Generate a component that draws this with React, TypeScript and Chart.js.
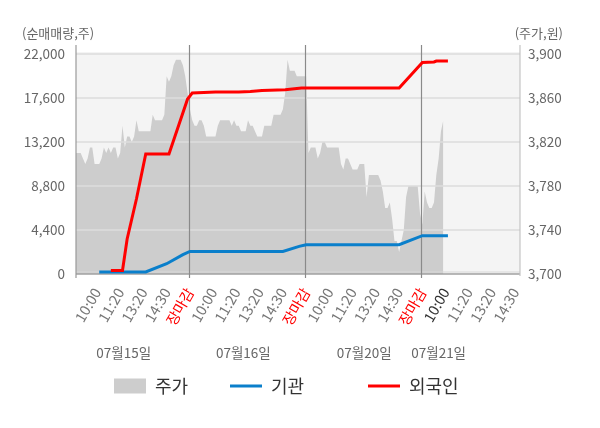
import React, { useEffect, useRef } from 'react';
import { Chart, registerables } from 'chart.js';

Chart.register(...registerables);

const FONT = "'Noto Sans CJK KR', 'Noto Sans', sans-serif";

// x tick labels (category slots along the time axis)
const tickLabels = [
  '10:00', '11:20', '13:20', '14:30', '장마감',
  '10:00', '11:20', '13:20', '14:30', '장마감',
  '10:00', '11:20', '13:20', '14:30', '장마감',
  '10:00', '11:20', '13:20', '14:30',
];
const tickIndex = [9, 19, 29, 39, 49, 59, 69, 79, 89, 99, 109, 119, 129, 139, 149, 159, 169, 179, 189];
const slotCount = 191;

const dateLabels = ['07월15일', '07월16일', '07월20일', '07월21일'];
const dateLabelIndex = [20.5, 72, 124, 156];

const leftTicks = [0, 4400, 8800, 13200, 17600, 22000];
const rightTicks = [3700, 3740, 3780, 3820, 3860, 3900];

const leftTitle = '(순매매량,주)';
const rightTitle = '(주가,원)';

// 주가 (price, won) per slot
const priceDay1 = [
  3810, 3810, 3810, 3805, 3800, 3805, 3815, 3815, 3800, 3800,
  3800, 3805, 3815, 3810, 3815, 3810, 3815, 3815, 3805, 3810,
  3835, 3815, 3825, 3825, 3820, 3825, 3840, 3830, 3830, 3830,
  3830, 3830, 3830, 3845, 3840, 3840, 3840, 3840, 3845, 3880,
  3875, 3880, 3890, 3895, 3895, 3895, 3890, 3880, 3865, 3850,
];
const priceDay2 = [
  3840, 3835, 3835, 3840, 3840, 3835, 3825, 3825, 3825, 3825,
  3825, 3835, 3840, 3840, 3840, 3840, 3840, 3835, 3840, 3835,
  3835, 3830, 3830, 3830, 3840, 3835, 3835, 3830, 3825, 3825,
  3825, 3835, 3835, 3835, 3835, 3845, 3845, 3845, 3845, 3850,
  3865, 3895, 3885, 3885, 3885, 3880, 3880, 3880, 3880, 3880,
];
const priceDay3 = [
  3810, 3815, 3815, 3815, 3805, 3810, 3820, 3820, 3815, 3815,
  3815, 3815, 3815, 3815, 3800, 3795, 3805, 3805, 3800, 3795,
  3795, 3795, 3800, 3800, 3800, 3770, 3790, 3790, 3790, 3790,
  3790, 3785, 3775, 3760, 3760, 3765, 3750, 3730, 3730, 3720,
  3730, 3740, 3770, 3780, 3780, 3780, 3780, 3780, 3755, 3745,
];
const priceDay4 = [3775, 3765, 3760, 3760, 3765, 3790, 3805, 3830, 3840];

// 기관 / 외국인 cumulative net buying (shares): [slot, value]
const institutionPoints = [
  [10, 200], [30, 200], [39, 1030], [46, 1930], [49, 2260], [89, 2260],
  [96, 2760], [99, 2930], [139, 2930], [149, 3830], [160, 3830],
];
const foreignPoints = [
  [15, 350], [20, 350], [22, 3500], [26, 7500], [30, 12000], [40, 12000],
  [48, 17500], [50, 18100], [60, 18200], [70, 18200], [75, 18260], [80, 18360],
  [90, 18430], [93, 18500], [97, 18600], [100, 18600], [139, 18600],
  [149, 21160], [154, 21200], [155, 21300], [160, 21300],
];

const priceColor = '#cdcdcd';
const institutionColor = '#0a7fcb';
const foreignColor = '#ff0000';

const decor = {
  id: 'decor',
  beforeDraw(chart: any) {
    const { ctx, chartArea: a } = chart;
    ctx.save();
    ctx.fillStyle = '#f4f4f4';
    ctx.fillRect(a.left, a.top, a.right - a.left, a.bottom - a.top);
    ctx.restore();
  },
  afterDatasetDraw(chart: any, args: any) {
    if (args.index !== 0) return;
    const { ctx, chartArea: a, scales } = chart;
    ctx.save();
    ctx.strokeStyle = '#dddddd';
    ctx.lineWidth = 1.5;
    leftTicks.forEach((v) => {
      if (v === 0) return;
      const y = scales.y.getPixelForValue(v);
      ctx.beginPath();
      ctx.moveTo(a.left, y);
      ctx.lineTo(a.right, y);
      ctx.stroke();
    });
    // bottom axis
    ctx.strokeStyle = '#a0a0a0';
    ctx.lineWidth = 1.5;
    ctx.beginPath();
    ctx.moveTo(a.left, a.bottom);
    ctx.lineTo(a.right, a.bottom);
    ctx.stroke();
    ctx.strokeStyle = '#d8d8d8';
    ctx.lineWidth = 1;
    ctx.beginPath();
    ctx.moveTo(a.left, a.bottom - 2);
    ctx.lineTo(a.right, a.bottom - 2);
    ctx.stroke();
    // day separators
    ctx.strokeStyle = '#8a8a8a';
    ctx.lineWidth = 1.2;
    tickIndex.forEach((v, k) => {
      if (tickLabels[k] !== '장마감') return;
      const x = Math.round(scales.x.getPixelForValue(v)) - 0.5;
      ctx.beginPath();
      ctx.moveTo(x, a.top - 7);
      ctx.lineTo(x, a.bottom + 4);
      ctx.stroke();
    });
    // left / right axis lines
    ctx.strokeStyle = '#999999';
    ctx.beginPath();
    ctx.moveTo(a.left, a.top - 7);
    ctx.lineTo(a.left, a.bottom + 4);
    ctx.stroke();
    ctx.strokeStyle = '#c4c4c4';
    ctx.beginPath();
    ctx.moveTo(a.right, a.top - 7);
    ctx.lineTo(a.right, a.bottom + 2);
    ctx.stroke();
    ctx.restore();
  },
  afterDraw(chart: any) {
    const { ctx, scales } = chart;
    ctx.save();
    ctx.textBaseline = 'middle';
    ctx.fillStyle = '#666666';
    ctx.font = `13px ${FONT}`;
    ctx.textAlign = 'left';
    ctx.fillText(leftTitle, 22, 33);
    ctx.textAlign = 'right';
    ctx.fillText(rightTitle, 563, 33);

    ctx.font = `13.5px ${FONT}`;
    ctx.textAlign = 'center';
    dateLabels.forEach((d, k) => {
      ctx.fillText(d, scales.x.getPixelForValue(dateLabelIndex[k]), 353);
    });

    // legend
    const ds = chart.data.datasets;
    const starts = [114, 230, 368];
    const ly = 386;
    ctx.font = `18px ${FONT}`;
    ctx.textAlign = 'left';
    ds.forEach((d: any, k: number) => {
      const x0 = starts[k];
      if (k === 0) {
        ctx.fillStyle = d.backgroundColor;
        ctx.fillRect(x0, ly - 7.5, 32, 15);
      } else {
        ctx.strokeStyle = d.borderColor;
        ctx.lineWidth = 3;
        ctx.beginPath();
        ctx.moveTo(x0, ly);
        ctx.lineTo(x0 + 32, ly);
        ctx.stroke();
      }
      ctx.fillStyle = '#333333';
      ctx.fillText(d.label, x0 + 41, ly);
    });
    ctx.restore();
  },
};

export default function App() {
  const ref = useRef<HTMLCanvasElement | null>(null);

  useEffect(() => {
    document.body.style.margin = '0';
    const canvas = ref.current;
    if (!canvas) return;
    const prices = [...priceDay1, ...priceDay2, ...priceDay3, ...priceDay4];
    const chart = new Chart(canvas, {
      type: 'line',
      data: {
        datasets: [
          {
            label: '주가',
            data: prices.map((v, i) => ({ x: i, y: v })),
            yAxisID: 'y1',
            fill: 'start',
            backgroundColor: priceColor,
            borderColor: priceColor,
            borderWidth: 0,
            pointRadius: 0,
            order: 3,
          },
          {
            label: '기관',
            data: institutionPoints.map(([x, y]) => ({ x, y })),
            yAxisID: 'y',
            borderColor: institutionColor,
            backgroundColor: institutionColor,
            borderWidth: 3,
            pointRadius: 0,
            fill: false,
            order: 2,
          },
          {
            label: '외국인',
            data: foreignPoints.map(([x, y]) => ({ x, y })),
            yAxisID: 'y',
            borderColor: foreignColor,
            backgroundColor: foreignColor,
            borderWidth: 3,
            pointRadius: 0,
            fill: false,
            order: 1,
          },
        ],
      },
      options: {
        animation: false,
        responsive: false,
        layout: { padding: { top: 52, left: 0, right: 0, bottom: 0 } },
        plugins: { legend: { display: false }, tooltip: { enabled: false } },
        scales: {
          x: {
            type: 'linear',
            min: 0,
            max: slotCount,
            grid: { display: false, drawTicks: false },
            border: { display: false },
            afterBuildTicks: (s: any) => {
              s.ticks = tickIndex.map((v) => ({ value: v }));
            },
            afterFit: (s: any) => {
              s.height = 154;
            },
            ticks: {
              autoSkip: false,
              minRotation: 60,
              maxRotation: 60,
              padding: 11,
              font: { family: FONT, size: 14.5 },
              color: (c: any) =>
                tickLabels[c.index] === '장마감' ? '#ff0000' : c.index === 15 ? '#333333' : '#777777',
              callback: (_v: any, i: number) => tickLabels[i],
            },
          },
          y: {
            position: 'left',
            min: 0,
            max: 22200,
            grid: { display: false, drawTicks: false },
            border: { display: false },
            afterBuildTicks: (s: any) => {
              s.ticks = leftTicks.map((v) => ({ value: v }));
            },
            afterFit: (s: any) => {
              s.width = 76;
            },
            ticks: {
              padding: 11,
              color: '#666666',
              font: { family: FONT, size: 13.5 },
              callback: (v: any) => Number(v).toLocaleString('en-US'),
            },
          },
          y1: {
            position: 'right',
            min: 3700,
            max: 3902,
            grid: { display: false, drawTicks: false },
            border: { display: false },
            afterBuildTicks: (s: any) => {
              s.ticks = rightTicks.map((v) => ({ value: v }));
            },
            afterFit: (s: any) => {
              s.width = 80;
            },
            ticks: {
              padding: 8,
              color: '#666666',
              font: { family: FONT, size: 13.5 },
              callback: (v: any) => Number(v).toLocaleString('en-US'),
            },
          },
        },
      },
      plugins: [decor],
    } as any);
    return () => chart.destroy();
  }, []);

  return (
    <div style={{ width: 600, height: 428 }}>
      <canvas ref={ref} width={600} height={428} style={{ display: 'block' }} />
    </div>
  );
}
